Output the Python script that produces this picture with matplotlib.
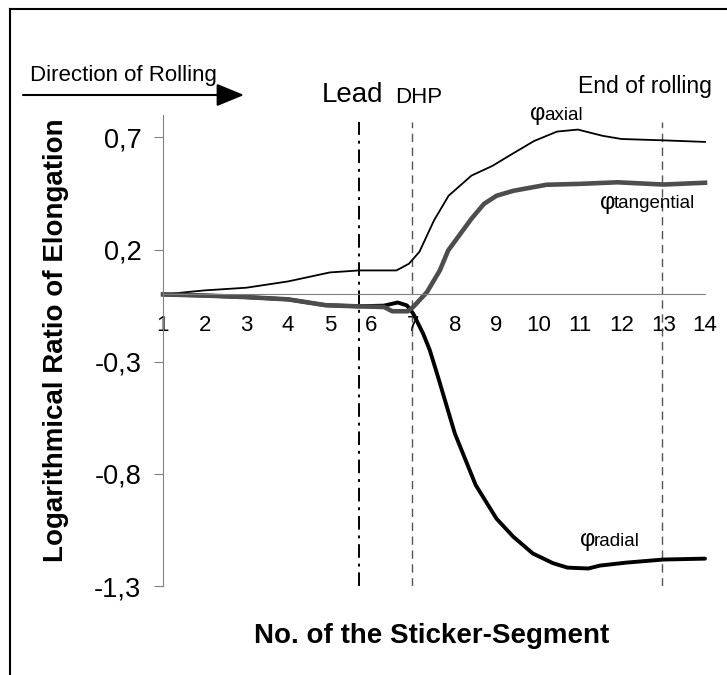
import matplotlib
matplotlib.use('Agg')
import matplotlib.pyplot as plt
from matplotlib.lines import Line2D

plt.rcParams['font.family'] = ['Liberation Sans', 'DejaVu Sans']

W, H = 727, 675  # output size in px

# sticker segments on the x axis
segments = list(range(1, 15))
y_ticks = [-1.3, -0.8, -0.3, 0.2, 0.7]
y_tick_labels = ['-1,3', '-0,8', '-0,3', '0,2', '0,7']

# curves
axial_x = [1, 2, 3, 4, 5, 5.7, 6.6, 6.9, 7.15, 7.5, 7.85, 8.4, 8.9, 9.3, 9.9,
           10.45, 10.95, 11.55, 12, 13, 14]
axial_y = [0, 0.018, 0.03, 0.058, 0.098, 0.107, 0.107, 0.137, 0.19, 0.33, 0.44,
           0.53, 0.573, 0.618, 0.684, 0.726, 0.735, 0.707, 0.693, 0.687, 0.68]

tang_x = [1, 2, 3, 4, 4.9, 5.65, 6.3, 6.5, 6.87, 7.0, 7.33, 7.64, 7.84, 8.4,
          8.7, 9.0, 9.4, 10.2, 11, 11.9, 13, 14]
tang_y = [0, -0.005, -0.012, -0.022, -0.048, -0.053, -0.056, -0.075, -0.075,
          -0.056, 0.01, 0.107, 0.196, 0.338, 0.404, 0.44, 0.462, 0.489, 0.493,
          0.5, 0.49, 0.498]

radial_x = [1, 2, 3, 4, 4.9, 5.65, 6.3, 6.63, 6.85, 7.0, 7.24, 7.4, 7.6, 8,
            8.5, 9, 9.4, 9.87, 10.35, 10.7, 11.2, 11.48, 12.1, 13, 14]
radial_y = [0, -0.005, -0.012, -0.022, -0.048, -0.053, -0.05, -0.036, -0.049,
            -0.085, -0.175, -0.249, -0.37, -0.62, -0.85, -1.0, -1.08, -1.155,
            -1.198, -1.218, -1.222, -1.209, -1.196, -1.182, -1.178]

lead_x = 5.7
dhp_x = 6.97
end_x = 12.97


def fx(px):
    return px / W


def fy(py):
    return 1 - py / H


fig = plt.figure(figsize=(W / 100, H / 100), dpi=100)
ax = fig.add_axes([fx(163), fy(586), (705 - 163) / W, (586 - 115) / H])

# frame around the whole chart (only left and top visible)
fig.add_artist(Line2D([fx(10), fx(10)], [fy(9), 0], color='k', lw=1.5))
fig.add_artist(Line2D([fx(10), 1], [fy(9), fy(9)], color='k', lw=1.5))

# marker lines
ax.plot([lead_x, lead_x], [-1.3, 0.77], color='k', lw=1.4,
        dashes=(7, 3, 1.5, 3))
ax.plot([dhp_x, dhp_x], [-1.3, 0.77], color='#555555', lw=1, dashes=(6, 4))
ax.plot([end_x, end_x], [-1.3, 0.77], color='#555555', lw=1, dashes=(6, 4))

ax.plot(axial_x, axial_y, color='k', lw=1.3, clip_on=False)
ax.plot(radial_x, radial_y, color='k', lw=2.8, clip_on=False,
        solid_capstyle='round', solid_joinstyle='round')
ax.plot(tang_x, tang_y, color='#4d4d4d', lw=3.3, clip_on=False)

ax.set_xlim(1, 14)
ax.set_ylim(-1.3, 0.8)

for s in ['top', 'right']:
    ax.spines[s].set_visible(False)
ax.spines['left'].set_color('#808080')
ax.spines['bottom'].set_position(('data', 0))
ax.spines['bottom'].set_color('#808080')

ax.set_xticks(segments)
ax.set_xticklabels([str(s) for s in segments])
ax.set_xticks([4, 7, 10, 13], minor=True)
ax.tick_params(axis='x', which='major', length=0, pad=15, labelsize=16)
ax.tick_params(axis='x', which='minor', length=7, direction='inout',
               color='#808080')
ax.set_yticks(y_ticks)
ax.set_yticklabels(y_tick_labels)
ax.tick_params(axis='y', direction='out', length=6.5, pad=9, labelsize=19.5,
               color='#808080')

fig.text(fx(56), fy(340), 'Logarithmical Ratio of Elongation', rotation=90,
         fontsize=20, fontweight='bold', ha='center', va='center')
fig.text(fx(432), fy(636), 'No. of the Sticker-Segment', fontsize=20,
         fontweight='bold', ha='center', va='center')

# direction arrow
fig.text(fx(30), fy(81), 'Direction of Rolling', fontsize=16, va='baseline')
ax.annotate('', xy=(fx(244), fy(95)), xytext=(fx(23), fy(95)),
            xycoords='figure fraction', textcoords='figure fraction',
            arrowprops=dict(arrowstyle='-|>,head_length=0.85,head_width=0.35',
                            mutation_scale=20, lw=1.5, color='k',
                            shrinkA=0, shrinkB=0))

fig.text(fx(322), fy(102), 'Lead', fontsize=20, va='baseline')
fig.text(fx(395), fy(103), 'DHP', fontsize=16, va='baseline')
fig.text(fx(578), fy(87), 'End of rolling', fontsize=16.6, va='center')


def phi_label(px, py, sub):
    fig.text(fx(px), fy(py), '\u03c6', fontsize=17, va='center')
    fig.text(fx(px + 14), fy(py + 1), sub, fontsize=13.5, va='center')


phi_label(530, 114, 'axial')
phi_label(600, 203, 'tangential')
phi_label(580, 540, 'radial')

fig.savefig('out.png', dpi=100)
